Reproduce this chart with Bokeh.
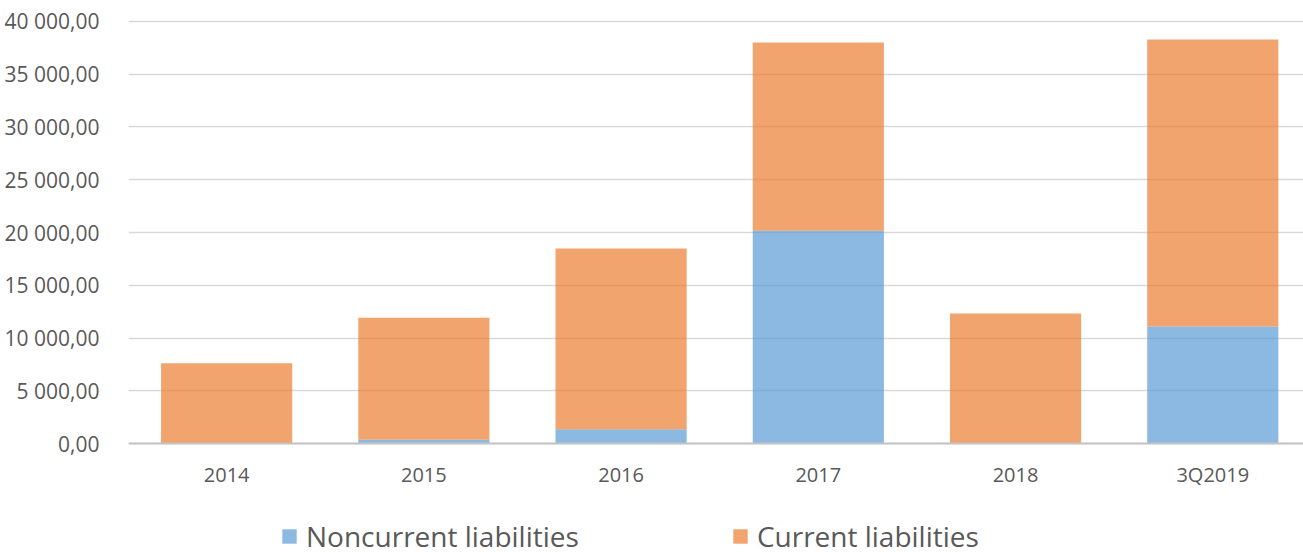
from bokeh.plotting import figure
from bokeh.models import (Range1d, FixedTicker, CustomJSTickFormatter,
                          Legend, LegendItem)
from bokeh.embed import file_html
from bokeh.resources import INLINE

categories = ["2014", "2015", "2016", "2017", "2018", "3Q2019"]
noncurrent = [0, 380, 1380, 20170, 0, 11110]
current = [7630, 11550, 17110, 17830, 12340, 27180]
yticks = [0, 5000, 10000, 15000, 20000, 25000, 30000, 35000, 40000]

xs = list(range(len(categories)))
data = dict(x=xs, noncurrent=noncurrent, current=current)

FONT = "Open Sans"
GRAY = "#595959"

p = figure(width=1303, height=555, output_backend="svg", toolbar_location=None,
           x_range=Range1d(-0.4976, 5.46), y_range=Range1d(-10578, 40653),
           min_border_left=128, min_border_right=0, min_border_top=14, min_border_bottom=0)
p.outline_line_color = None
p.background_fill_color = "white"

r = p.vbar_stack(["noncurrent", "current"], x="x", width=0.665, source=data,
                 color=["#5B9BD5", "#ED7D31"], fill_alpha=0.7, line_color=None)

p.xgrid.visible = False
p.ygrid.grid_line_color = "#D9D9D9"
p.ygrid.grid_line_width = 1.5
p.ygrid.ticker = FixedTicker(ticks=yticks)

ya = p.yaxis[0]
ya.ticker = FixedTicker(ticks=yticks)
ya.formatter = CustomJSTickFormatter(code="""
const s = tick.toFixed(2).split('.');
return s[0].replace(/\\B(?=(\\d{3})+(?!\\d))/g, ' ') + ',' + s[1];
""")
ya.axis_line_color = None
ya.major_tick_line_color = None
ya.minor_tick_line_color = None
ya.major_label_text_font = FONT
ya.major_label_text_font_size = "21px"
ya.major_label_text_color = GRAY
ya.major_label_standoff = 23

xa = p.xaxis[0]
xa.fixed_location = 0
xa.ticker = FixedTicker(ticks=xs)
xa.major_label_overrides = {i: c for i, c in zip(xs, categories)}
xa.axis_line_color = "#C4C4C4"
xa.axis_line_width = 2
xa.major_tick_line_color = None
xa.minor_tick_line_color = None
xa.major_label_text_font = FONT
xa.major_label_text_font_size = "20px"
xa.major_label_text_color = GRAY
xa.major_label_standoff = 11

legend = Legend(items=[LegendItem(label="Noncurrent liabilities", renderers=[r[0]]),
                       LegendItem(label="Current liabilities", renderers=[r[1]])],
                orientation="horizontal", location=(152, 0),
                glyph_width=18, glyph_height=18, label_standoff=8, spacing=152,
                padding=0, margin=0, border_line_color=None, background_fill_alpha=0,
                label_text_font=FONT, label_text_font_size="28px", label_text_color=GRAY,
                label_height=26)
p.add_layout(legend, "center")

open("out.html", "w").write(file_html(p, INLINE))
